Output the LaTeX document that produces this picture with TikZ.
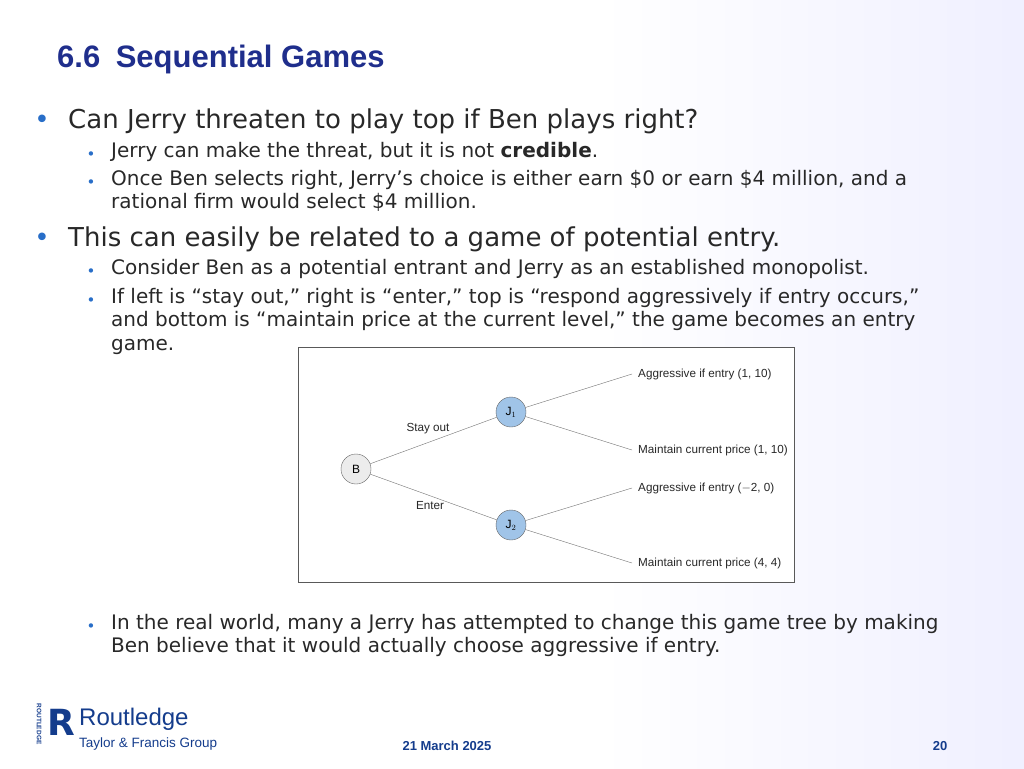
\documentclass[tikz,border=0pt]{standalone}
\usepackage{fontspec}
\setmainfont{DejaVu Sans}
\newfontfamily\arialfont{Liberation Sans}
\usetikzlibrary{positioning}
\definecolor{titleblue}{RGB}{31,46,140}
\definecolor{bulletblue}{RGB}{40,110,200}
\definecolor{textgray}{RGB}{40,40,40}
\definecolor{nodeblue}{RGB}{160,196,232}
\definecolor{logoblue}{RGB}{20,60,140}
\tikzset{
	main text/.style = {anchor=base west, inner sep=0pt, text=textgray, font=\fontsize{26}{30}\selectfont},
	sub text/.style = {anchor=north west, inner sep=0pt, text=textgray, font=\fontsize{20}{23.5}\selectfont, align=left},
	main dot/.style = {anchor=base, inner sep=0pt, text=bulletblue, font=\fontsize{26}{30}\selectfont},
	sub dot/.style = {anchor=base, inner sep=0pt, text=bulletblue, font=\fontsize{15}{20}\selectfont},
	player/.style = {draw=gray!80!black, circle, minimum size=30pt, inner sep=0pt, font=\arialfont\fontsize{12}{14}\selectfont},
	branch/.style = {draw=gray!90!black, thin},
	leaf/.style = {anchor=west, inner sep=6pt, text=textgray, font=\arialfont\fontsize{11.7}{13}\selectfont},
	move/.style = {inner sep=0pt, text=textgray, font=\arialfont\fontsize{11.7}{13}\selectfont},
}
\begin{document}
\begin{tikzpicture}[x=1pt, y=-1pt]
	\useasboundingbox (0,0) rectangle (1024,768);
	\shade[left color=white, right color=blue!6] (600,0) rectangle (1024,768);

	%% Title
	\node [anchor=base west, inner sep=0pt, text=titleblue, font=\arialfont\bfseries\fontsize{31}{34}\selectfont] (title) at (57,67) {6.6\enspace Sequential Games};

	%% Bullets
	\node [main dot] (d1) at (42,128) {•};
	\node [main text] (t1) at (68,128) {Can Jerry threaten to play top if Ben plays right?};
	\node [sub dot] (d11) at (91,159) {•};
	\node [sub text] (t11) at (111,142) {Jerry can make the threat, but it is not \textbf{credible}.};
	\node [sub dot] (d12) at (91,187) {•};
	\node [sub text] (t12) at (111,170) {Once Ben selects right, Jerry’s choice is either earn \$0 or earn \$4 million, and a\\rational firm would select \$4 million.};
	\node [main dot] (d2) at (42,246) {•};
	\node [main text] (t2) at (68,246) {This can easily be related to a game of potential entry.};
	\node [sub dot] (d21) at (91,276) {•};
	\node [sub text] (t21) at (111,259) {Consider Ben as a potential entrant and Jerry as an established monopolist.};
	\node [sub dot] (d22) at (91,305) {•};
	\node [sub text] (t22) at (111,288) {If left is “stay out,” right is “enter,” top is “respond aggressively if entry occurs,”\\and bottom is “maintain price at the current level,” the game becomes an entry\\game.};
	\node [sub dot] (d23) at (91,631) {•};
	\node [sub text] (t23) at (111,614) {In the real world, many a Jerry has attempted to change this game tree by making\\Ben believe that it would actually choose aggressive if entry.};

	%% Game tree
	\draw [gray!70!black, fill=white] (298,347) rectangle (794,582);
	\node [player, fill=gray!15] (B) at (356,469) {B};
	\node [player, fill=nodeblue] (J1) at (511,412) {J$_1$};
	\node [player, fill=nodeblue] (J2) at (511,525) {J$_2$};
	\coordinate (L1) at (632,374);
	\coordinate (L2) at (632,450);
	\coordinate (L3) at (632,488);
	\coordinate (L4) at (632,563);
	\draw [branch] (B) -- (J1);
	\draw [branch] (B) -- (J2);
	\foreach \j/\a/\b in {J1/L1/L2, J2/L3/L4}{%
		\draw [branch] (\j) -- (\a);
		\draw [branch] (\j) -- (\b);
	}
	\node [leaf] at (L1) {Aggressive if entry (1, 10)};
	\node [leaf] at (L2) {Maintain current price (1, 10)};
	\node [leaf] at (L3) {Aggressive if entry ($-$2, 0)};
	\node [leaf] at (L4) {Maintain current price (4, 4)};
	\node [move] (so) at (428,429) {Stay out};
	\node [move] (en) at (430,506) {Enter};

	%% Logo and footer
	\node [rotate=-90, inner sep=0pt, text=logoblue, font=\arialfont\bfseries\fontsize{6.5}{8}\selectfont] (rl) at (39,724) {ROUTLEDGE};
	\node [inner sep=0pt, text=logoblue, font=\bfseries\fontsize{36}{36}\selectfont] (R) at (61,722) {R};
	\node [anchor=base west, inner sep=0pt, text=logoblue, font=\arialfont\fontsize{24}{28}\selectfont] (rt) at (79,725) {Routledge};
	\node [anchor=base west, inner sep=0pt, text=logoblue, font=\arialfont\fontsize{13.5}{16}\selectfont] (tf) at (79,747) {Taylor \& Francis Group};
	\node [anchor=base, inner sep=0pt, text=logoblue, font=\arialfont\bfseries\fontsize{13}{15}\selectfont] (date) at (447,750) {21 March 2025};
	\node [anchor=base, inner sep=0pt, text=logoblue, font=\arialfont\bfseries\fontsize{13}{15}\selectfont] (pg) at (940,750) {20};
\end{tikzpicture}
\end{document}
